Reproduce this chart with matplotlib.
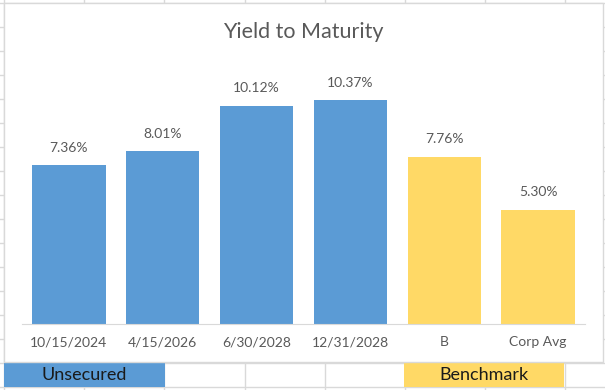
import matplotlib
matplotlib.use('Agg')
import matplotlib.pyplot as plt
from matplotlib.lines import Line2D
from matplotlib.patches import Rectangle

# Chart data
categories = ['10/15/2024', '4/15/2026', '6/30/2028', '12/31/2028', 'B', 'Corp Avg']
ytm = [7.36, 8.01, 10.12, 10.37, 7.76, 5.30]
groups = ['Unsecured', 'Unsecured', 'Unsecured', 'Unsecured', 'Benchmark', 'Benchmark']

BLUE = '#5B9BD5'
YELLOW = '#FFD966'
GRAY_TEXT = '#595959'
GRID = '#D9D9D9'
group_colors = {'Unsecured': BLUE, 'Benchmark': YELLOW}

plt.rcParams['font.family'] = ['Lato', 'DejaVu Sans']

W, H = 605, 390
fig = plt.figure(figsize=(W / 100, H / 100), dpi=100)


def px(x, y):
    # pixel coords (top-left origin) -> figure fraction
    return x / W, 1 - y / H


# spreadsheet gridlines behind the chart
col_x = [4 + 80.2 * k for k in range(9)]
row_y = [3 + 24 * k for k in range(17)]
for x in col_x:
    fig.add_artist(Line2D([x / W, x / W], [0, 1], color=GRID, lw=1, zorder=-3))
for y in row_y:
    fig.add_artist(Line2D([0, 1], [1 - y / H, 1 - y / H], color=GRID, lw=1, zorder=-3))

# colored cells under the chart
for (x0, x1), label, color in [((4, 165), 'Unsecured', BLUE), ((404, 564), 'Benchmark', YELLOW)]:
    fx0, fy0 = px(x0, 387)
    fig.add_artist(Rectangle((fx0, fy0), (x1 - x0) / W, 24 / H, facecolor=color,
                             edgecolor='none', zorder=-2))
    cx, cy = px((x0 + x1) / 2, 375)
    fig.text(cx, cy, label, ha='center', va='center', fontsize=13, color='#1A1A1A')

# chart area
cx0, cy0 = px(4, 362)
fig.add_artist(Rectangle((cx0, cy0), 599 / W, 359 / H, facecolor='white',
                         edgecolor=GRID, lw=1, zorder=-1))

fig.text(*px(303, 32), 'Yield to Maturity', ha='center', va='center',
         fontsize=15.5, color=GRAY_TEXT)

# plot area
left, bottom = px(22, 324)
ax = fig.add_axes([left, bottom, (585 - 22) / W, 259 / H])
ax.set_zorder(1)
ax.patch.set_visible(False)

xs = range(len(categories))
ax.bar(xs, ytm, width=0.78, color=[group_colors[g] for g in groups])
for x, v in zip(xs, ytm):
    ax.annotate(f'{v:.2f}%', (x, v), xytext=(0, 8), textcoords='offset points',
                ha='center', va='bottom', fontsize=10, color=GRAY_TEXT)

ax.set_xlim(-0.5, len(categories) - 0.5)
ax.set_ylim(0, 12)
ax.set_xticks(list(xs))
ax.set_xticklabels(categories, fontsize=10, color=GRAY_TEXT)
ax.tick_params(axis='x', length=0, pad=9)
ax.set_yticks([])
for s in ['top', 'right', 'left']:
    ax.spines[s].set_visible(False)
ax.spines['bottom'].set_color(GRID)

fig.savefig('out.png', dpi=100)
